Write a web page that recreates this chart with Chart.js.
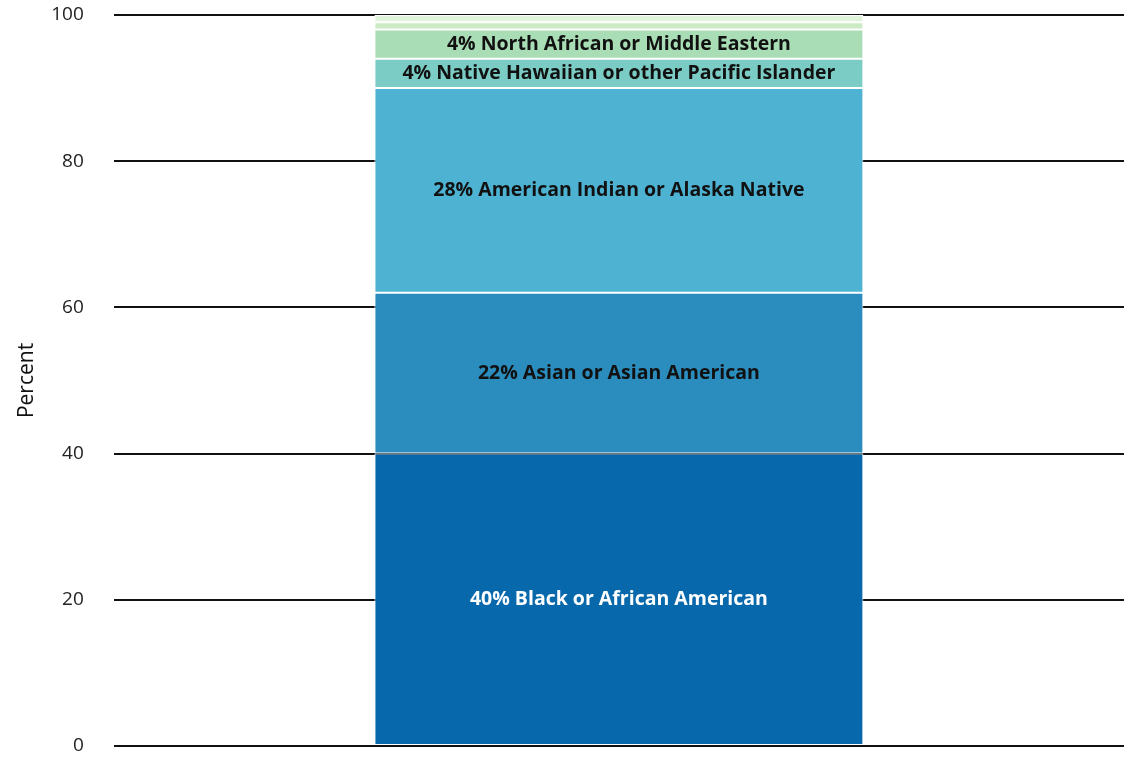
<!DOCTYPE html>
<html>
<head>
<meta charset="utf-8">
<script src="https://cdn.jsdelivr.net/npm/chart.js@4/dist/chart.umd.min.js"></script>
<style>
  html, body { margin: 0; padding: 0; background: #fff; }
  #wrap { width: 1124px; height: 760px; }
</style>
</head>
<body>
<div id="wrap"><canvas id="chart" width="1124" height="760"></canvas></div>
<script>
// data, bottom to top
const categories = [""];
const groups = [
  "Black or African American",
  "Asian or Asian American",
  "American Indian or Alaska Native",
  "Native Hawaiian or other Pacific Islander",
  "North African or Middle Eastern",
  "Other 1",
  "Other 2"
];
const values = [40, 22, 28, 4, 4, 1, 1];
const colors = ["#0868ac", "#2b8cbe", "#4eb3d3", "#7bccc4", "#a8ddb5", "#ccebc5", "#e0f3db"];
const textColors = ["#ffffff", "#111111", "#111111", "#111111", "#111111", "#111111", "#111111"];
const yTicks = [0, 20, 40, 60, 80, 100];

const fontFamily = "'Open Sans', Lato, sans-serif";

// segment labels drawn inside the bar
const segmentLabels = {
  id: "segmentLabels",
  afterDatasetsDraw(chart) {
    const ctx = chart.ctx;
    ctx.save();
    ctx.font = "bold 19.5px " + fontFamily;
    ctx.textAlign = "center";
    ctx.textBaseline = "middle";
    chart.data.datasets.forEach((ds, i) => {
      if (ds.data[0] < 3) return;
      const bar = chart.getDatasetMeta(i).data[0];
      const mid = (bar.y + bar.base) / 2;
      ctx.fillStyle = textColors[i];
      ctx.fillText(ds.data[0] + "% " + ds.label, bar.x, mid);
    });
    ctx.restore();
  }
};

new Chart(document.getElementById("chart"), {
  type: "bar",
  data: {
    labels: categories,
    datasets: groups.map((g, i) => ({
      label: g,
      data: [values[i]],
      backgroundColor: colors[i],
      borderColor: "#ffffff",
      borderWidth: 1,
      borderSkipped: false,
      barPercentage: 0.484,
      categoryPercentage: 1
    }))
  },
  options: {
    responsive: false,
    animation: false,
    layout: { padding: { top: 15, bottom: 14, right: 0, left: 14 } },
    plugins: {
      legend: { display: false },
      tooltip: { enabled: false }
    },
    scales: {
      x: {
        stacked: true,
        display: false
      },
      y: {
        stacked: true,
        min: 0,
        max: 100,
        afterBuildTicks: (axis) => { axis.ticks = yTicks.map(v => ({ value: v })); },
        grid: { color: "#111111", lineWidth: 2, drawTicks: true, tickLength: 30, tickColor: "rgba(0,0,0,0)" },
        border: { display: false },
        ticks: {
          color: "#222222",
          padding: 0,
          font: { size: 19, family: fontFamily }
        },
        title: {
          display: true,
          text: "Percent",
          color: "#111111",
          padding: { top: 0, bottom: 12 },
          font: { size: 21, family: fontFamily }
        }
      }
    }
  },
  plugins: [segmentLabels]
});
</script>
</body>
</html>
